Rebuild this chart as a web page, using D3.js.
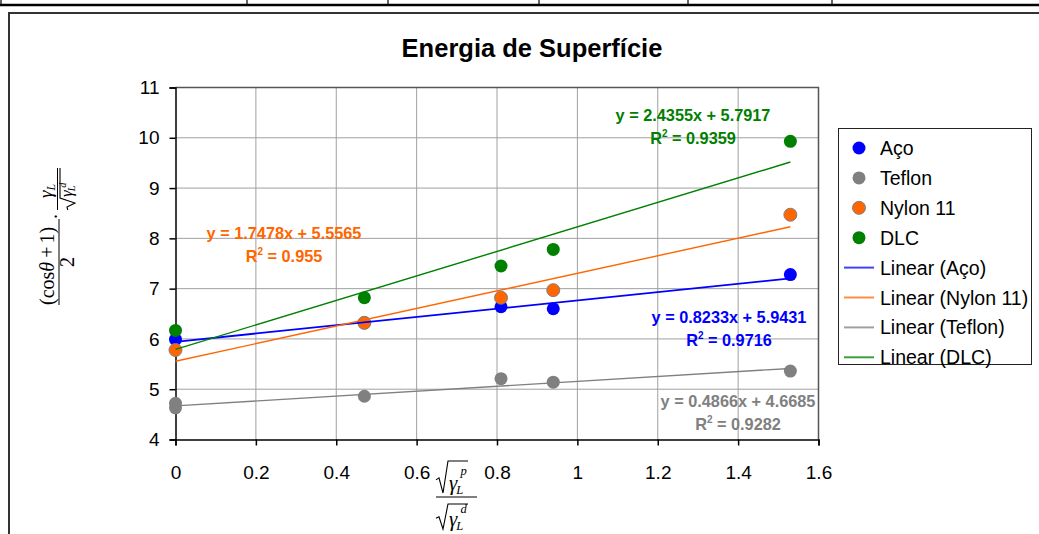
<!DOCTYPE html>
<html>
<head>
<meta charset="utf-8">
<script src="https://cdn.jsdelivr.net/npm/d3@7"></script>
<style>
  body { margin: 0; background: #fff; }
  svg { display: block; }
</style>
</head>
<body>
<div id="chart"></div>
<script>
// series values
const seriesNames = ["Aço", "Teflon", "Nylon 11", "DLC"];
const acoX = [0, 0.47, 0.81, 0.94, 1.53];
const acoY = [5.99, 6.32, 6.64, 6.60, 7.28];
const teflonX = [0, 0, 0.47, 0.81, 0.94, 1.53];
const teflonY = [4.72, 4.63, 4.86, 5.21, 5.14, 5.36];
const nylonX = [0, 0.47, 0.81, 0.94, 1.53];
const nylonY = [5.78, 6.32, 6.82, 6.97, 8.47];
const dlcX = [0, 0.47, 0.81, 0.94, 1.53];
const dlcY = [6.17, 6.82, 7.45, 7.78, 9.93];

// trendline equations shown on the chart
const slopes = [0.8233, 0.4866, 1.7478, 2.4355];
const intercepts = [5.9431, 4.6685, 5.5565, 5.7917];
const r2Values = ["0.9716", "0.9282", "0.955", "0.9359"];

const xTicks = [0, 0.2, 0.4, 0.6, 0.8, 1, 1.2, 1.4, 1.6];
const yTicks = [4, 5, 6, 7, 8, 9, 10, 11];
const title = "Energia de Superfície";

const colors = ["#0000ff", "#808080", "#ff6600", "#008000"];
const strokes = ["none", "none", "#808080", "none"];
const series = [[acoX, acoY], [teflonX, teflonY], [nylonX, nylonY], [dlcX, dlcY]];

const W = 1039, H = 534;
const sans = "'Liberation Sans', Arial, sans-serif";
const serif = "'Liberation Serif', 'Times New Roman', serif";

const svg = d3.select("#chart").append("svg")
    .attr("width", W)
    .attr("height", H);

// bits of the table above the chart
svg.append("line").attr("x1", 0).attr("x2", W).attr("y1", 5).attr("y2", 5)
    .attr("stroke", "#000").attr("stroke-width", 2.5);
[1, 247, 388, 539, 688, 832].forEach(x => {
    svg.append("line").attr("x1", x).attr("x2", x).attr("y1", 0).attr("y2", 5)
        .attr("stroke", "#000").attr("stroke-width", 1.2);
});

// chart frame
svg.append("rect").attr("x", 9).attr("y", 13).attr("width", W + 20).attr("height", H)
    .attr("fill", "none").attr("stroke", "#333").attr("stroke-width", 2);

// title
svg.append("text")
    .attr("x", 532).attr("y", 57)
    .attr("text-anchor", "middle")
    .style("font-family", sans).style("font-weight", "bold").style("font-size", "25.5px")
    .text(title);

// scales
const x = d3.scaleLinear().domain([0, 1.6]).range([175.5, 818.5]);
const y = d3.scaleLinear().domain([4, 11]).range([439.5, 87.5]);

// grid
const grid = svg.append("g");
grid.selectAll(".gx").data(xTicks.slice(1)).enter().append("line")
    .attr("x1", d => x(d)).attr("x2", d => x(d))
    .attr("y1", y(11)).attr("y2", y(4))
    .attr("stroke", "#a0a0a0").attr("stroke-width", 1);
grid.selectAll(".gy").data(yTicks.slice(1)).enter().append("line")
    .attr("x1", x(0)).attr("x2", x(1.6))
    .attr("y1", d => y(d)).attr("y2", d => y(d))
    .attr("stroke", "#a0a0a0").attr("stroke-width", 1);
// plot border top/right
svg.append("path")
    .attr("d", `M${x(0)},${y(11)}H${x(1.6)}V${y(4)}`)
    .attr("fill", "none").attr("stroke", "#555").attr("stroke-width", 1.5);

// axes
const xAxis = svg.append("g")
    .attr("transform", `translate(0,${y(4)})`)
    .call(d3.axisBottom(x).tickValues(xTicks).tickSize(6).tickFormat(d3.format("")));
xAxis.select(".domain").attr("stroke-width", 1.5);
xAxis.selectAll(".tick line").attr("stroke-width", 1.5);
xAxis.selectAll("text")
    .attr("y", 26)
    .attr("dy", "0.71em")
    .style("font-family", sans).style("font-size", "19px").attr("fill", "#000");

const yAxis = svg.append("g")
    .attr("transform", `translate(${x(0)},0)`)
    .call(d3.axisLeft(y).tickValues(yTicks).tickSize(6).tickFormat(d3.format("d")));
yAxis.select(".domain").attr("stroke-width", 1.5);
yAxis.selectAll(".tick line").attr("stroke-width", 1.5);
yAxis.selectAll("text")
    .attr("x", -16)
    .style("font-family", sans).style("font-size", "19px").attr("fill", "#000");

// markers
series.forEach((s, i) => {
    svg.append("g").selectAll("circle")
        .data(s[0].map((v, j) => [v, s[1][j]]))
        .enter().append("circle")
        .attr("cx", d => x(d[0]))
        .attr("cy", d => y(d[1]))
        .attr("r", 6.5)
        .attr("fill", colors[i])
        .attr("stroke", strokes[i])
        .attr("stroke-width", 1);
});

// trendlines
const line = d3.line().x(d => x(d[0])).y(d => y(d[1]));
series.forEach((s, i) => {
    const xmin = d3.min(s[0]), xmax = d3.max(s[0]);
    svg.append("path")
        .datum([xmin, xmax].map(v => [v, slopes[i] * v + intercepts[i]]))
        .attr("d", line)
        .attr("fill", "none")
        .attr("stroke", colors[i])
        .attr("stroke-width", i === 0 ? 1.8 : 1.4);
});

// equation labels (center x, baseline y)
const eqPos = [[729, 323], [738, 407], [284, 239], [693, 121]];
series.forEach((s, i) => {
    const g = svg.append("g")
        .style("font-family", sans).style("font-weight", "bold").style("font-size", "16.3px")
        .attr("fill", colors[i]).attr("text-anchor", "middle");
    g.append("text")
        .attr("x", eqPos[i][0]).attr("y", eqPos[i][1])
        .text(`y = ${slopes[i].toFixed(4)}x + ${intercepts[i].toFixed(4)}`);
    const t = g.append("text")
        .attr("x", eqPos[i][0]).attr("y", eqPos[i][1] + 23);
    t.append("tspan").text("R");
    t.append("tspan").attr("dy", -7).style("font-size", "10px").text("2");
    t.append("tspan").attr("dy", 7).text(" = " + r2Values[i]);
});

// legend
const leg = svg.append("g");
leg.append("rect").attr("x", 838.5).attr("y", 128.5).attr("width", 193).attr("height", 236)
    .attr("fill", "#fff").attr("stroke", "#222").attr("stroke-width", 1);
const legItems = seriesNames.map((n, i) => ({ label: n, i, kind: "dot" }))
    .concat([0, 2, 1, 3].map(i => ({ label: `Linear (${seriesNames[i]})`, i, kind: "line" })));
legItems.forEach((d, k) => {
    const cy = 148 + k * 29.9;
    if (d.kind === "dot") {
        leg.append("circle").attr("cx", 859).attr("cy", cy).attr("r", 6.5)
            .attr("fill", colors[d.i]).attr("stroke", strokes[d.i]).attr("stroke-width", 1);
    } else {
        leg.append("line").attr("x1", 844).attr("x2", 874).attr("y1", cy).attr("y2", cy)
            .attr("stroke", colors[d.i]).attr("stroke-width", 2).attr("opacity", 0.75);
    }
    leg.append("text").attr("x", 880).attr("y", cy + 7)
        .style("font-family", sans).style("font-size", "19.5px")
        .text(d.label);
});

// radical sign with gamma_L and a superscript
function radicalGamma(g, x0, yb, sup, h, fs, w, supDy) {
    g.append("path")
        .attr("d", `M${x0},${yb - h * 0.35}L${x0 + 3},${yb - h * 0.42}L${x0 + 7},${yb + 3}L${x0 + 12},${yb - h}H${x0 + w}`)
        .attr("fill", "none").attr("stroke", "#000").attr("stroke-width", 1.1);
    const t = g.append("text").attr("x", x0 + 13).attr("y", yb)
        .style("font-family", serif).style("font-size", fs + "px");
    t.append("tspan").style("font-style", "italic").text("γ");
    t.append("tspan").attr("dx", -1).attr("dy", fs * 0.2).style("font-style", "italic")
        .style("font-size", (fs * 0.6) + "px").text("L");
    g.append("text").attr("x", x0 + 13 + fs * 0.55).attr("y", yb - supDy)
        .style("font-family", serif).style("font-size", (fs * 0.6) + "px")
        .style("font-style", "italic").text(sup);
}

// y axis title: (cosθ+1)/2 · γL/√γLd, rotated
const yl = svg.append("g")
    .attr("transform", "translate(59,305) rotate(-90)")
    .style("font-family", serif).style("font-size", "20px");
const num1 = yl.append("text").attr("x", 0).attr("y", -5);
num1.append("tspan").text("(cos");
num1.append("tspan").style("font-style", "italic").text("θ");
num1.append("tspan").attr("dx", 4).text("+");
num1.append("tspan").attr("dx", 3).text("1)");
yl.append("line").attr("x1", 0).attr("x2", 86).attr("y1", 0).attr("y2", 0)
    .attr("stroke", "#000").attr("stroke-width", 1);
yl.append("text").attr("x", 43).attr("y", 15).attr("text-anchor", "middle").text("2");
yl.append("text").attr("x", 86).attr("y", -2).text(".");
const num2 = yl.append("text").attr("x", 107).attr("y", -7).style("font-size", "19px");
num2.append("tspan").style("font-style", "italic").text("γ");
num2.append("tspan").attr("dy", 3).style("font-style", "italic").style("font-size", "12px").text("L");
yl.append("line").attr("x1", 95).attr("x2", 137).attr("y1", -1.5).attr("y2", -1.5)
    .attr("stroke", "#000").attr("stroke-width", 1);
radicalGamma(yl, 95, 13, "d", 12, 17, 42, 6);

// x axis title: √γLp / √γLd
const xl = svg.append("g");
radicalGamma(xl, 436, 490, "p", 29, 21, 32, 15);
xl.append("line").attr("x1", 436).attr("x2", 477).attr("y1", 497).attr("y2", 497)
    .attr("stroke", "#000").attr("stroke-width", 1);
radicalGamma(xl, 436, 526, "d", 22, 21, 32, 13);
</script>
</body>
</html>
